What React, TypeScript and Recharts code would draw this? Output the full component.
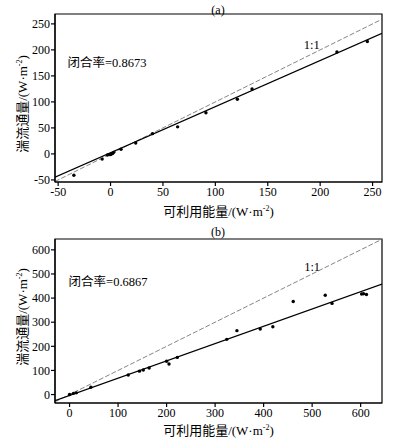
import { ComposedChart, Scatter, Line, XAxis, YAxis, ReferenceArea, ReferenceDot } from 'recharts'

const FONT = '"Liberation Serif", "Times New Roman", "Noto Sans CJK SC", serif'

// (a)
const availA = [-35, -8, -3, -1, 0, 1, 2, 3, 10, 24, 40, 64, 91, 121, 135, 216, 245]
const fluxA = [-41, -10, -2, -1, -1, 0, 1, 3, 9, 21, 39, 52, 79, 105, 125, 196, 216]
const fitXA = [-53, 259]
const fitYA = [-44.7, 232]
const oneXA = [-53, 259]
const ticksXA = [-50, 0, 50, 100, 150, 200, 250]
const ticksYA = [-50, 0, 50, 100, 150, 200, 250]

// (b)
const availB = [0, 8, 14, 44, 121, 144, 152, 164, 200, 205, 222, 324, 345, 393, 419, 461, 527, 541, 602, 606, 612]
const fluxB = [0, 5, 7, 30, 81, 97, 102, 110, 138, 127, 154, 229, 265, 272, 281, 386, 412, 378, 417, 418, 415]
const fitXB = [-30, 644]
const fitYB = [-25, 458]
const oneXB = [-30, 644]
const ticksXB = [0, 100, 200, 300, 400, 500, 600]
const ticksYB = [0, 100, 200, 300, 400, 500, 600]

const toPoints = (xs: number[], ys: number[]) => xs.map((x, i) => ({ x, y: ys[i] }))

const tickStyle = { fontSize: 12, fill: '#000', fontFamily: FONT, style: { fontFamily: FONT } }

function Dot(props: any) {
  const { cx, cy } = props
  if (cx == null || cy == null) return null
  return <circle cx={cx} cy={cy} r={1.7} fill="#000" />
}

const xLabel = (dy: number) => (props: any) => {
  const { x, y, width } = props.viewBox
  return (
    <text x={x + width / 2} y={y + dy + 4.5} textAnchor="middle" style={{ fontFamily: FONT }} fontSize={13} fill="#000">
      <tspan>可利用能量/(W·m</tspan>
      <tspan dy={-5} fontSize={8}>-2</tspan>
      <tspan dy={5}>)</tspan>
    </text>
  )
}

const yLabel = (dy: number) => (props: any) => {
  const { x, y, height } = props.viewBox
  const cx = x + 17
  const cy = y + height / 2 + dy
  return (
    <text transform={`translate(${cx},${cy}) rotate(-90)`} x={0} y={4.5} textAnchor="middle" style={{ fontFamily: FONT }} fontSize={13} fill="#000">
      <tspan>湍流通量/(W·m</tspan>
      <tspan dy={-5} fontSize={8}>-2</tspan>
      <tspan dy={5}>)</tspan>
    </text>
  )
}

const note = (text: string, anchor: 'start' | 'middle') => (props: any) => {
  const { x, y } = props.viewBox
  return (
    <text x={x} y={y + 4.5} textAnchor={anchor} style={{ fontFamily: FONT }} fontSize={12.5} fill="#000">
      {text}
    </text>
  )
}

type PanelProps = {
  title: string
  height: number
  top: number
  plotTop: number
  xs: number[]
  ys: number[]
  fitX: number[]
  fitY: number[]
  oneX: number[]
  ticksX: number[]
  ticksY: number[]
  domainX: [number, number]
  domainY: [number, number]
  ratio: string
  ratioAt: [number, number]
  oneAt: [number, number]
  xLabelDy: number
  yLabelDy: number
  titleY: number
}

function Panel(p: PanelProps) {
  const pts = toPoints(p.xs, p.ys)
  const fit = toPoints(p.fitX, p.fitY)
  const one = toPoints(p.oneX, p.oneX)
  return (
    <div style={{ position: 'absolute', left: 0, top: p.top, width: 394, height: p.height, fontFamily: FONT }}>
      <div
        style={{
          position: 'absolute',
          left: 0,
          width: 436,
          top: p.titleY - 8,
          textAlign: 'center',
          fontSize: 12,
          lineHeight: '16px',
        }}
      >
        {p.title}
      </div>
      <ComposedChart
        width={394}
        height={p.height}
        style={{ fontFamily: FONT }}
        margin={{ top: p.plotTop, right: 12, bottom: 8, left: 5 }}
      >
        <XAxis
          type="number"
          dataKey="x"
          domain={p.domainX}
          ticks={p.ticksX}
          allowDataOverflow
          height={30}
          tick={tickStyle}
          tickSize={4}
          tickMargin={1}
          stroke="#000"
          strokeWidth={1.2}
          label={xLabel(p.xLabelDy)}
        />
        <YAxis
          type="number"
          dataKey="y"
          domain={p.domainY}
          ticks={p.ticksY}
          allowDataOverflow
          width={50}
          tick={tickStyle}
          tickSize={4}
          tickMargin={1}
          stroke="#000"
          strokeWidth={1.2}
          label={yLabel(p.yLabelDy)}
        />
        <ReferenceArea
          x1={p.domainX[0]}
          x2={p.domainX[1]}
          y1={p.domainY[0]}
          y2={p.domainY[1]}
          fill="none"
          stroke="#000"
          strokeWidth={1.2}
          fillOpacity={0}
        />
        <Line
          data={one}
          dataKey="y"
          type="linear"
          stroke="#666"
          strokeWidth={0.8}
          strokeDasharray="5 2"
          dot={false}
          activeDot={false}
          isAnimationActive={false}
        />
        <Line
          data={fit}
          dataKey="y"
          type="linear"
          stroke="#000"
          strokeWidth={1.3}
          dot={false}
          activeDot={false}
          isAnimationActive={false}
        />
        <Scatter data={pts} dataKey="y" shape={Dot} isAnimationActive={false} />
        <ReferenceDot x={p.ratioAt[0]} y={p.ratioAt[1]} r={0} stroke="none" label={note(`闭合率=${p.ratio}`, 'start')} />
        <ReferenceDot x={p.oneAt[0]} y={p.oneAt[1]} r={0} stroke="none" label={note('1:1', 'middle')} />
      </ComposedChart>
    </div>
  )
}

export default function App() {
  return (
    <div style={{ position: 'absolute', left: 0, top: 0, width: 394, height: 441, background: '#fff' }}>
      <Panel
        title="(a)"
        top={0}
        plotTop={14}
        height={220}
        titleY={10}
        xs={availA}
        ys={fluxA}
        fitX={fitXA}
        fitY={fitYA}
        oneX={oneXA}
        ticksX={ticksXA}
        ticksY={ticksYA}
        domainX={[-53, 259]}
        domainY={[-54, 269]}
        ratio="0.8673"
        ratioAt={[-41, 176]}
        oneAt={[192, 211]}
        xLabelDy={29}
        yLabelDy={6}
      />
      <Panel
        title="(b)"
        top={220}
        plotTop={19}
        height={221}
        titleY={12}
        xs={availB}
        ys={fluxB}
        fitX={fitXB}
        fitY={fitYB}
        oneX={oneXB}
        ticksX={ticksXB}
        ticksY={ticksYB}
        domainX={[-30, 644]}
        domainY={[-35, 645]}
        ratio="0.6867"
        ratioAt={[-2, 469]}
        oneAt={[500, 531]}
        xLabelDy={27}
        yLabelDy={-4}
      />
    </div>
  )
}
